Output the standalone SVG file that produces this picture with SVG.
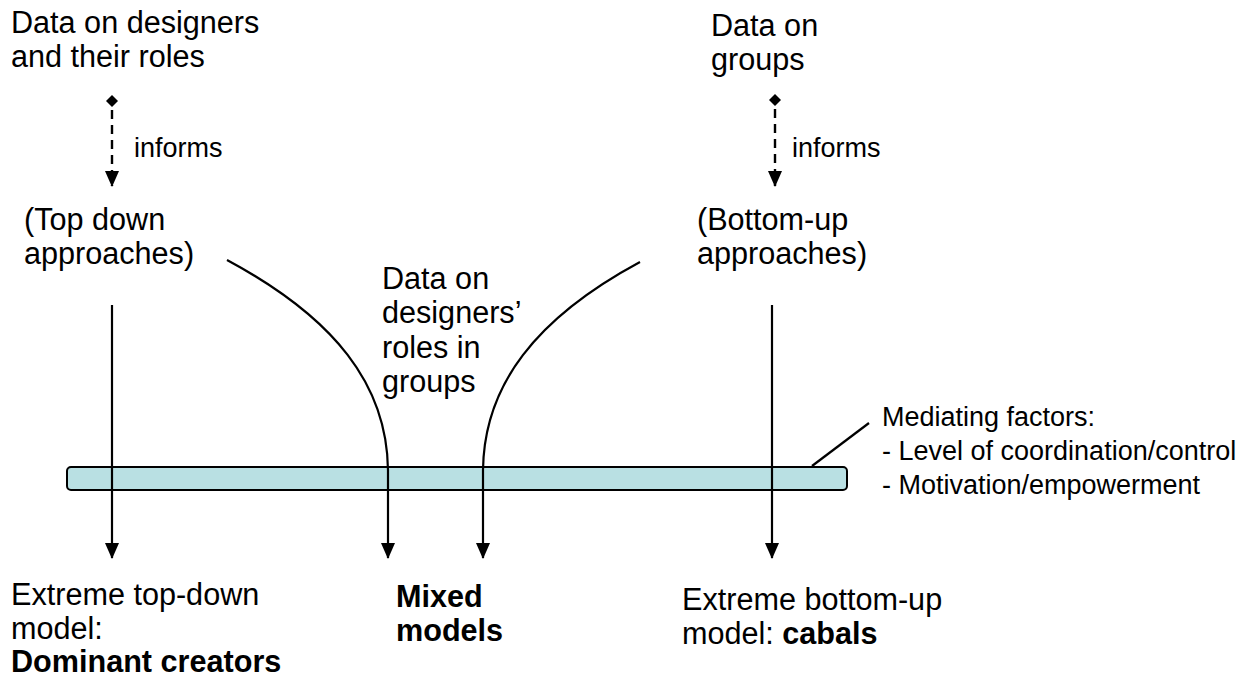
<svg xmlns="http://www.w3.org/2000/svg" width="1244" height="681" viewBox="0 0 1244 681">
  <defs>
    <style>
      text { font-family: "Liberation Sans", Arial, sans-serif; fill: #000; }
      .main { font-size: 30.6px; }
      .small { font-size: 27px; }
      .b { font-weight: bold; }
      .line { fill: none; stroke: #000; stroke-width: 2.2; }
      .dash { fill: none; stroke: #000; stroke-width: 2.4; stroke-dasharray: 9 6; }
      .tip { fill: #000; }
    </style>
    <marker id="arrow" viewBox="0 0 16 14" refX="15" refY="7" markerWidth="16" markerHeight="14" markerUnits="userSpaceOnUse" orient="auto">
      <path d="M0,0 L16,7 L0,14 Z" fill="#000"/>
    </marker>
  </defs>

  <rect width="1244" height="681" fill="#fff"/>

  <!-- mediating bar -->
  <g id="mediating-bar">
    <rect x="67" y="467" width="780" height="23" rx="4" ry="4" fill="#b9e0e3" stroke="#000" stroke-width="2"/>
  </g>

  <g id="data-designers">
    <text class="main" x="11" y="33">Data on designers</text>
    <text class="main" x="11" y="67">and their roles</text>
  </g>

  <g id="data-groups">
    <text class="main" x="711" y="36">Data on</text>
    <text class="main" x="711" y="70">groups</text>
  </g>

  <g id="top-down">
    <text class="main" x="24" y="230">(Top down</text>
    <text class="main" x="24" y="264">approaches)</text>
  </g>

  <g id="bottom-up">
    <text class="main" x="697" y="230">(Bottom-up</text>
    <text class="main" x="697" y="264">approaches)</text>
  </g>

  <g id="data-roles-groups">
    <text class="main" x="382" y="289">Data on</text>
    <text class="main" x="382" y="323">designers’</text>
    <text class="main" x="382" y="358">roles in</text>
    <text class="main" x="382" y="392">groups</text>
  </g>

  <g id="mediating-factors">
    <text class="small" x="882" y="426">Mediating factors:</text>
    <text class="small" x="882" y="460">- Level of coordination/control</text>
    <text class="small" x="882" y="494">- Motivation/empowerment</text>
  </g>

  <g id="extreme-top-down">
    <text class="main" x="11" y="605">Extreme top-down</text>
    <text class="main" x="11" y="639">model:</text>
    <text class="main b" x="11" y="672">Dominant creators</text>
  </g>

  <g id="mixed-models">
    <text class="main b" x="396" y="607">Mixed</text>
    <text class="main b" x="396" y="641">models</text>
  </g>

  <g id="extreme-bottom-up">
    <text class="main" x="682" y="610">Extreme bottom-up</text>
    <text class="main" x="682" y="644">model: <tspan class="b">cabals</tspan></text>
  </g>

  <!-- connectors -->
  <g id="connectors">
    <path class="tip" d="M112,95 L118,101 L112,107 L106,101 Z"/>
    <line class="dash" x1="112" y1="110" x2="112" y2="186" marker-end="url(#arrow)"/>
    <text class="small" x="134" y="157">informs</text>

    <path class="tip" d="M775,94 L781,100 L775,106 L769,100 Z"/>
    <line class="dash" x1="775" y1="109" x2="775" y2="186" marker-end="url(#arrow)"/>
    <text class="small" x="792" y="157">informs</text>

    <line class="line" x1="112" y1="305" x2="112" y2="558" marker-end="url(#arrow)"/>
    <line class="line" x1="772" y1="305" x2="772" y2="558" marker-end="url(#arrow)"/>
    <path class="line" d="M227,260 C335,318 387,385 388,470 L388,558" marker-end="url(#arrow)"/>
    <path class="line" d="M640,262 C536,318 484,385 483,470 L483,558" marker-end="url(#arrow)"/>

    <line class="line" x1="812" y1="466" x2="869" y2="423" stroke-width="1.8"/>
  </g>
</svg>
